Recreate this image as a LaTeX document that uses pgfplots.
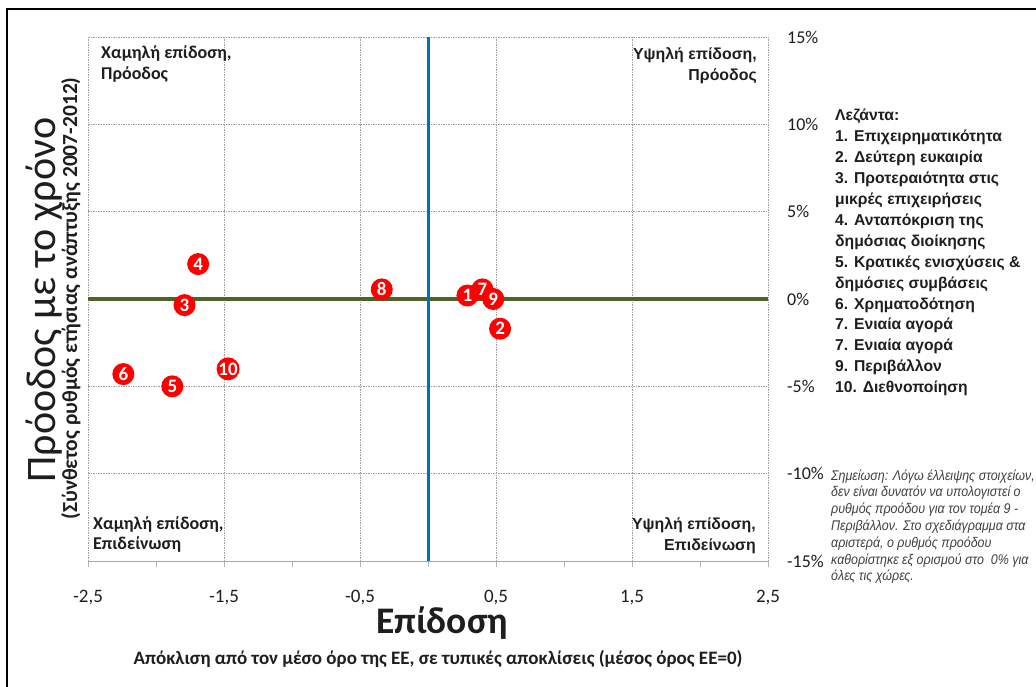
\documentclass[border=0pt]{standalone}
\usepackage{pgfplots}
\pgfplotsset{compat=1.18}
\usepackage{fontspec}
\setmainfont{Carlito}
\newfontfamily\arial{Liberation Sans}
\newfontfamily\notefont[FakeStretch=0.89]{Liberation Sans}
\definecolor{olivegr}{RGB}{79,98,40}
\definecolor{msblue}{RGB}{0,112,192}
\definecolor{ptred}{RGB}{255,0,0}
\definecolor{txt}{RGB}{30,30,30}
\begin{document}
\begin{tikzpicture}[x=1pt,y=1pt]
\useasboundingbox (0pt,0pt) rectangle (1036pt,686pt);
\draw[line width=2.5pt] (7pt,-5pt) -- (7pt,677pt) -- (1045pt,677pt);
\begin{axis}[
  at={(88pt,125pt)}, anchor=south west, scale only axis,
  width=680pt, height=524pt,
  xmin=-2.5, xmax=2.5, ymin=-15, ymax=15,
  xtick={-2.5,-1.5,-0.5,0.5,1.5,2.5},
  minor xtick={-2,-1,0,1,2},
  ytick={-15,-10,-5,0,5,10,15},
  grid=major,
  major grid style={draw=gray!75, dash pattern=on 1.5pt off 1pt, line width=0.5pt},
  axis line style={draw=none},
  xtick pos=bottom, tick align=outside,
  major tick length=6pt, minor tick length=6pt,
  every tick/.style={draw=gray!60, line width=0.7pt},
  ytick style={draw=none},
  yticklabel pos=right,
  yticklabel={\pgfmathprintnumber{\tick}\%},
  /pgf/number format/assume math mode=true,
  x tick label style={/pgf/number format/.cd, use comma, fixed, fixed zerofill, precision=1, /tikz/.cd,
    font=\fontsize{19}{19}\selectfont, anchor=base, inner sep=0pt, yshift=-35pt, text=txt},
  y tick label style={font=\fontsize{18}{18}\selectfont, anchor=west, inner sep=0pt, xshift=13pt, text=txt},
  clip=false,
]
\addplot[olivegr, line width=3.5pt] coordinates {(-2.5,0) (2.5,0)};
\addplot[msblue, line width=3pt] coordinates {(0,-15) (0,15)};
\draw[gray!70, line width=0.8pt] (axis cs:-2.5,-15) -- (axis cs:2.5,-15);
\addplot[only marks, mark=*, mark size=0.1pt, mark options={draw=none, fill=none},
  nodes near coords, point meta=explicit symbolic,
  every node near coord/.style={circle, fill=ptred, text=white, inner sep=0pt,
    minimum size=22pt, anchor=center, font=\bfseries\fontsize{19}{19}\selectfont}]
  table[meta=lab] {
x y lab
0.29 0.2 1
0.53 -1.7 2
-1.79 -0.35 3
-1.69 2.0 4
-1.88 -5.0 5
-2.24 -4.3 6
0.40 0.55 7
-0.34 0.55 8
0.48 0.0 9
-1.47 -4.0 10
};
\end{axis}
% axis titles
\node[rotate=90, anchor=base, inner sep=0pt, text=txt] at (55pt,386pt) {\fontsize{42}{42}\selectfont Πρόοδος με το χρόνο};
\node[rotate=90, anchor=base, inner sep=0pt, text=txt] at (77pt,387.5pt) {\bfseries\fontsize{21.5}{21.5}\selectfont (Σύνθετος ρυθμός ετήσιας ανάπτυξης 2007-2012)};
\node[anchor=base, inner sep=0pt, text=txt] at (442pt,53pt) {\bfseries\fontsize{37.5}{37.5}\selectfont Επίδοση};
\node[anchor=base, inner sep=0pt, text=txt] at (438pt,22pt) {\bfseries\fontsize{19}{19}\selectfont Απόκλιση από τον μέσο όρο της ΕΕ, σε τυπικές αποκλίσεις (μέσος όρος ΕΕ=0)};
% quadrant labels
\node[anchor=base west, inner sep=0pt, text=txt] at (101pt,627pt) {\bfseries\fontsize{18}{18}\selectfont Χαμηλή επίδοση,};
\node[anchor=base west, inner sep=0pt, text=txt] at (101pt,606pt) {\bfseries\fontsize{18}{18}\selectfont Πρόοδος};
\node[anchor=base east, inner sep=0pt, text=txt] at (757pt,626pt) {\arial\bfseries\fontsize{15.9}{15.9}\selectfont Υψηλή επίδοση,};
\node[anchor=base east, inner sep=0pt, text=txt] at (757pt,605pt) {\arial\bfseries\fontsize{15.9}{15.9}\selectfont Πρόοδος};
\node[anchor=base west, inner sep=0pt, text=txt] at (93pt,157pt) {\bfseries\fontsize{18}{18}\selectfont Χαμηλή επίδοση,};
\node[anchor=base west, inner sep=0pt, text=txt] at (93pt,137pt) {\bfseries\fontsize{18}{18}\selectfont Επιδείνωση};
\node[anchor=base east, inner sep=0pt, text=txt] at (756pt,157pt) {\arial\bfseries\fontsize{15.9}{15.9}\selectfont Υψηλή επίδοση,};
\node[anchor=base east, inner sep=0pt, text=txt] at (756pt,136pt) {\arial\bfseries\fontsize{15.9}{15.9}\selectfont Επιδείνωση};
% legend
\begin{scope}[every node/.style={anchor=base west, inner sep=0pt, text=txt, font=\arial\bfseries\fontsize{15.7}{15.7}\selectfont}]
\node at (835pt,565.0pt) {Λεζάντα:};
\node at (835pt,544.1pt) {1. Επιχειρηματικότητα};
\node at (835pt,523.2pt) {2. Δεύτερη ευκαιρία};
\node at (835pt,502.3pt) {3. Προτεραιότητα στις};
\node at (835pt,481.4pt) {μικρές επιχειρήσεις};
\node at (835pt,460.5pt) {4. Ανταπόκριση της};
\node at (835pt,439.6pt) {δημόσιας διοίκησης};
\node at (835pt,418.7pt) {5. Κρατικές ενισχύσεις \&};
\node at (835pt,397.8pt) {δημόσιες συμβάσεις};
\node at (835pt,376.9pt) {6. Χρηματοδότηση};
\node at (835pt,356.0pt) {7. Ενιαία αγορά};
\node at (835pt,335.1pt) {7. Ενιαία αγορά};
\node at (835pt,314.2pt) {9. Περιβάλλον};
\node at (835pt,293.3pt) {10. Διεθνοποίηση};
\end{scope}
% note
\begin{scope}[every node/.style={anchor=base west, inner sep=0pt, text=black!75, font=\notefont\itshape\fontsize{14}{14}\selectfont}]
\node at (831pt,206.0pt) {Σημείωση: Λόγω έλλειψης στοιχείων,};
\node at (831pt,189.2pt) {δεν είναι δυνατόν να υπολογιστεί ο};
\node at (831pt,172.4pt) {ρυθμός προόδου για τον τομέα 9 -};
\node at (831pt,155.6pt) {Περιβάλλον. Στο σχεδιάγραμμα στα};
\node at (831pt,138.8pt) {αριστερά, ο ρυθμός προόδου};
\node at (831pt,122.0pt) {καθορίστηκε εξ ορισμού στο\ \ 0\% για};
\node at (831pt,105.2pt) {όλες τις χώρες.};
\end{scope}
\end{tikzpicture}
\end{document}
